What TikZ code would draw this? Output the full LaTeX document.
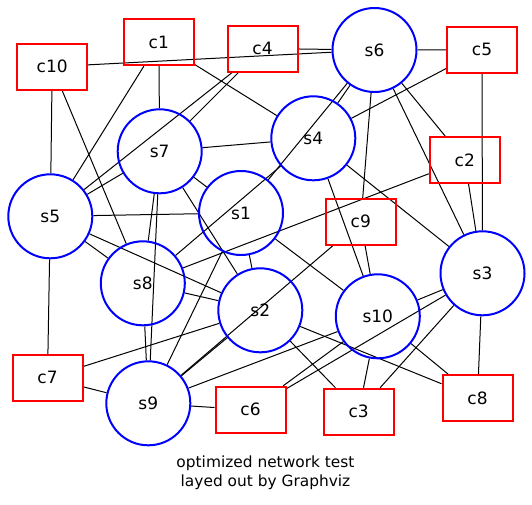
\documentclass[tikz,border=0pt]{standalone}
\usepackage{fontspec}
\setmainfont{DejaVu Sans}
\usetikzlibrary{backgrounds}
\begin{document}
\begin{tikzpicture}[x=1pt,y=-1pt,
  snode/.style={circle,draw=blue,line width=2pt,minimum size=84pt,inner sep=0pt,font=\fontsize{17}{20}\selectfont},
  cnode/.style={rectangle,draw=red,line width=2pt,minimum width=70pt,minimum height=46pt,inner sep=0pt,font=\fontsize{17}{20}\selectfont},
  edge/.style={draw=black,line width=1pt}]
\useasboundingbox (0,0) rectangle (532,504);
% s nodes
\node[snode] (s1) at (241,213) {s1};
\node[snode] (s2) at (260.3,310.3) {s2};
\node[snode] (s3) at (482.5,273.3) {s3};
\node[snode] (s4) at (313.3,138.3) {s4};
\node[snode] (s5) at (50.3,216.3) {s5};
\node[snode] (s6) at (374.5,50) {s6};
\node[snode] (s7) at (159.7,151.3) {s7};
\node[snode] (s8) at (142.8,283.3) {s8};
\node[snode] (s9) at (148.3,403.3) {s9};
\node[snode] (s10) at (377.8,316.3) {s10};
% c nodes
\node[cnode] (c1) at (158.8,42.2) {c1};
\node[cnode] (c2) at (464.8,160) {c2};
\node[cnode] (c3) at (358.7,411.7) {c3};
\node[cnode] (c4) at (262.5,48.5) {c4};
\node[cnode] (c5) at (482,49.7) {c5};
\node[cnode] (c6) at (250.5,409.8) {c6};
\node[cnode] (c7) at (47.5,377.8) {c7};
\node[cnode] (c8) at (477.5,398.3) {c8};
\node[cnode] (c9) at (360.8,221.8) {c9};
\node[cnode] (c10) at (52.2,66.7) {c10};
% caption
\node[font=\fontsize{15.4}{19}\selectfont,align=center] (cap) at (265.5,472.5) {optimized network test\\layed out by Graphviz};
\begin{pgfonlayer}{background}
\foreach \a/\b in {c10/s6,c10/s5,c10/s8,
  c1/s5,c1/s7,c1/s4,
  c4/s6,c4/s7,c4/s5,
  c5/s6,c5/s3,c5/s4,
  c2/s6,c2/s3,c2/s8,
  c9/s6,c9/s10,c9/s9,
  c7/s5,c7/s9,c7/s2,
  c6/s9,c6/s10,c6/s3,
  c3/s2,c3/s10,c3/s3,
  c8/s2,c8/s10,c8/s3,
  s7/s4,s7/s5,s7/s1,s7/s2,s7/s8,s7/s9,
  s5/s1,s5/s8,s5/s2,
  s1/s6,s1/s9,s1/s2,s1/s10,
  s6/s4,s6/s3,
  s4/s8,s4/s10,s4/s3,
  s8/s2,s8/s9,
  s9/s2,s9/s10,
  s10/s3}
  \draw[edge] (\a) -- (\b);
\end{pgfonlayer}
\end{tikzpicture}
\end{document}
